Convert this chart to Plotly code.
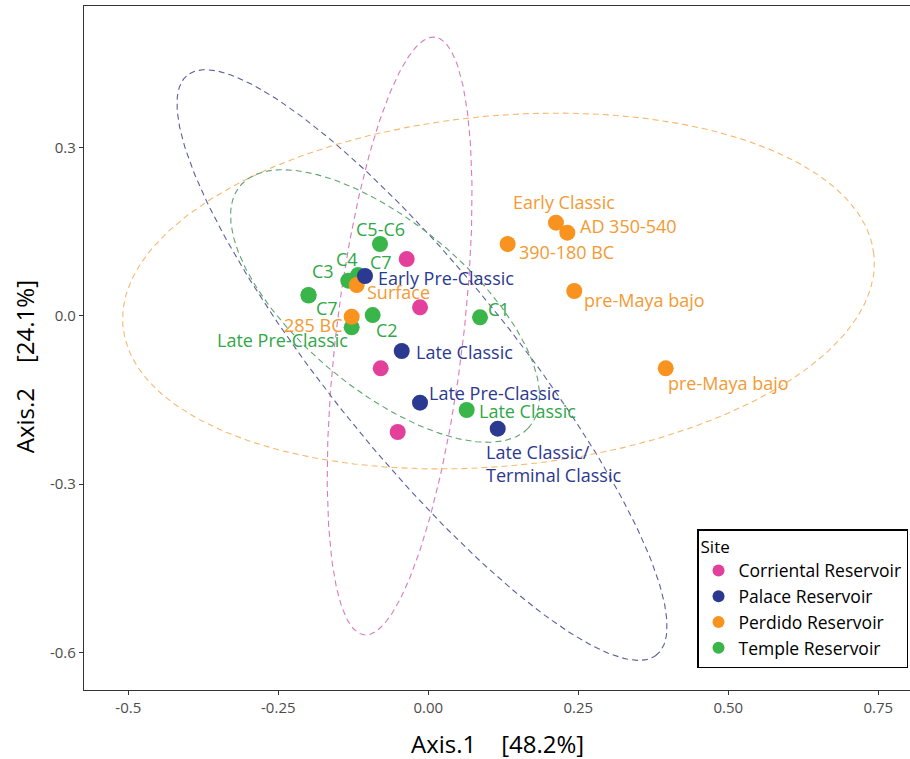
import numpy as np
import plotly.graph_objects as go

# ---------------- data ----------------
sites = ["Corriental Reservoir", "Palace Reservoir", "Perdido Reservoir", "Temple Reservoir"]

corriental_x = [-0.036, -0.0138, -0.0793, -0.051]
corriental_y = [0.101, 0.015, -0.0938, -0.2073]
corriental_lab = ["", "", "", ""]

palace_x = [-0.1055, -0.0443, -0.0138, 0.1157]
palace_y = [0.0708, -0.0629, -0.155, -0.2014]
palace_lab = ["Early Pre-Classic", "Late Classic", "Late Pre-Classic", "Late Classic/<br>Terminal Classic"]

perdido_x = [0.2128, 0.2317, 0.1323, 0.2433, 0.3957, -0.1193, -0.1277]
perdido_y = [0.1658, 0.148, 0.1278, 0.044, -0.0938, 0.0547, -0.0018]
perdido_lab = ["Early Classic", "AD 350-540", "390-180 BC", "pre-Maya bajo", "pre-Maya bajo", "Surface", "285 BC"]

temple_x = [-0.0805, -0.1172, -0.1333, -0.1997, -0.1995, -0.0927, -0.1277, 0.0862, 0.064]
temple_y = [0.1278, 0.0725, 0.0624, 0.0369, 0.036, 0.0012, -0.0207, -0.0029, -0.1681]
temple_lab = ["C5-C6", "C7", "C4", "C3", "C7", "C2", "Late Pre-Classic", "C1", "Late Classic"]

# 95% ellipses: centre, semi-axes, rotation (deg)
ell_cx = [-0.0478, -0.0105, 0.117, -0.072]
ell_cy = [-0.0362, -0.0879, 0.044, 0.0173]
ell_a = [0.536, 0.648, 0.629, 0.323]
ell_b = [0.106, 0.155, 0.312, 0.145]
ell_deg = [83.7, -53.1, 6.0, -42.5]

x_ticks = [-0.5, -0.25, 0.0, 0.25, 0.5, 0.75]
x_ticktext = ["-0.5", "-0.25", "0.00", "0.25", "0.50", "0.75"]
y_ticks = [0.3, 0.0, -0.3, -0.6]
y_ticktext = ["0.3", "0.0", "-0.3", "-0.6"]

# ---------------- style ----------------
FONT = "Open Sans"
marker_col = ["#E2409B", "#2B3990", "#F7931E", "#39B54A"]
text_col = ["#E2409B", "#2B3990", "#F39A33", "#2FA847"]
ell_col = ["#D87BBE", "#5B5F9C", "#F6B970", "#5FA36E"]

# label placement: (xanchor, xshift, yshift) in pixels relative to the point
palace_pos = [("left", 11, -2), ("left", 12, -1), ("left", 7, 10), ("left", -14, -35)]
perdido_pos = [("center", 8, 21), ("left", 11, 7), ("left", 9, -8), ("left", 8, -9),
               ("left", 0, -15), ("left", 8, -7), ("right", -7, -8)]
temple_pos = [("center", 1, 15), ("left", 10, 13), ("center", -1, 22), ("center", 15, 24),
              ("center", 18, -12), ("center", 14, -15), ("right", -2, -13), ("left", 6, 8),
              ("left", 10, -1)]

fig = go.Figure()

groups = [
    (0, corriental_x, corriental_y, corriental_lab, None),
    (1, palace_x, palace_y, palace_lab, palace_pos),
    (2, perdido_x, perdido_y, perdido_lab, perdido_pos),
    (3, temple_x, temple_y, temple_lab, temple_pos),
]

# ellipses
t = np.linspace(0, 2 * np.pi, 300)
for i in range(4):
    th = np.deg2rad(ell_deg[i])
    ex = ell_cx[i] + ell_a[i] * np.cos(th) * np.cos(t) - ell_b[i] * np.sin(th) * np.sin(t)
    ey = ell_cy[i] + ell_a[i] * np.sin(th) * np.cos(t) + ell_b[i] * np.cos(th) * np.sin(t)
    fig.add_trace(go.Scatter(x=ex, y=ey, mode="lines", showlegend=False, hoverinfo="skip",
                             line=dict(color=ell_col[i], width=1.1, dash="6px,4px")))

# points: drawing order Temple, Corriental, Perdido, Palace; legend order by site
draw_order = [3, 0, 2, 1]
for gi in draw_order:
    i, xs, ys, labs, pos = groups[gi]
    fig.add_trace(go.Scatter(x=xs, y=ys, mode="markers", name=sites[i], legendrank=i + 1,
                             marker=dict(color=marker_col[i], size=16, line=dict(width=0))))

for gi in [3, 2, 1]:
    i, xs, ys, labs, pos = groups[gi]
    for x, y, lab, (xa, dx, dy) in zip(xs, ys, labs, pos):
        fig.add_annotation(x=x, y=y, text=lab, showarrow=False, xanchor=xa, yanchor="middle",
                           xshift=dx, yshift=dy, align="left",
                           font=dict(family=FONT, size=18, color=text_col[i]))

# axis titles
fig.add_annotation(xref="paper", yref="paper", x=0.5, y=-0.0775, xanchor="center", yanchor="middle",
                   text="Axis.1 &nbsp;&nbsp;&nbsp;[48.2%]", showarrow=False,
                   font=dict(family=FONT, size=24, color="black"))
fig.add_annotation(xref="paper", yref="paper", x=-0.0726, y=0.472, xanchor="center", yanchor="middle",
                   text="Axis.2 &nbsp;&nbsp;&nbsp;[24.1%]", showarrow=False, textangle=-90,
                   font=dict(family=FONT, size=24, color="black"))

fig.update_layout(
    width=910, height=759,
    margin=dict(l=84, r=0, t=6, b=69),
    paper_bgcolor="white", plot_bgcolor="white",
    font=dict(family=FONT, color="#000000"),
    legend=dict(title=dict(text="Site", font=dict(family=FONT, size=17, color="black")),
                font=dict(family=FONT, size=17.5, color="black"),
                x=0.9976, xanchor="right", y=0.032, yanchor="bottom",
                bgcolor="white", bordercolor="black", borderwidth=1.5,
                itemsizing="constant", tracegroupgap=0),
)
fig.update_xaxes(range=[-0.5738, 0.8028], showgrid=False, zeroline=False, automargin=False,
                 showline=True, linecolor="#333333", linewidth=1.2, mirror=True,
                 ticks="outside", ticklen=4, tickcolor="#333333",
                 tickvals=x_ticks, ticktext=x_ticktext,
                 tickfont=dict(family=FONT, size=15, color="#4D4D4D"))
fig.update_yaxes(range=[-0.6672, 0.5521], showgrid=False, zeroline=False, automargin=False,
                 showline=True, linecolor="#333333", linewidth=1.2,
                 ticks="outside", ticklen=4, tickcolor="#333333",
                 tickvals=y_ticks, ticktext=y_ticktext,
                 tickfont=dict(family=FONT, size=15, color="#4D4D4D"))

fig.write_html("out.html", config={"displayModeBar": False},
               post_script="document.body.style.margin='0';document.body.style.overflow='hidden';")
